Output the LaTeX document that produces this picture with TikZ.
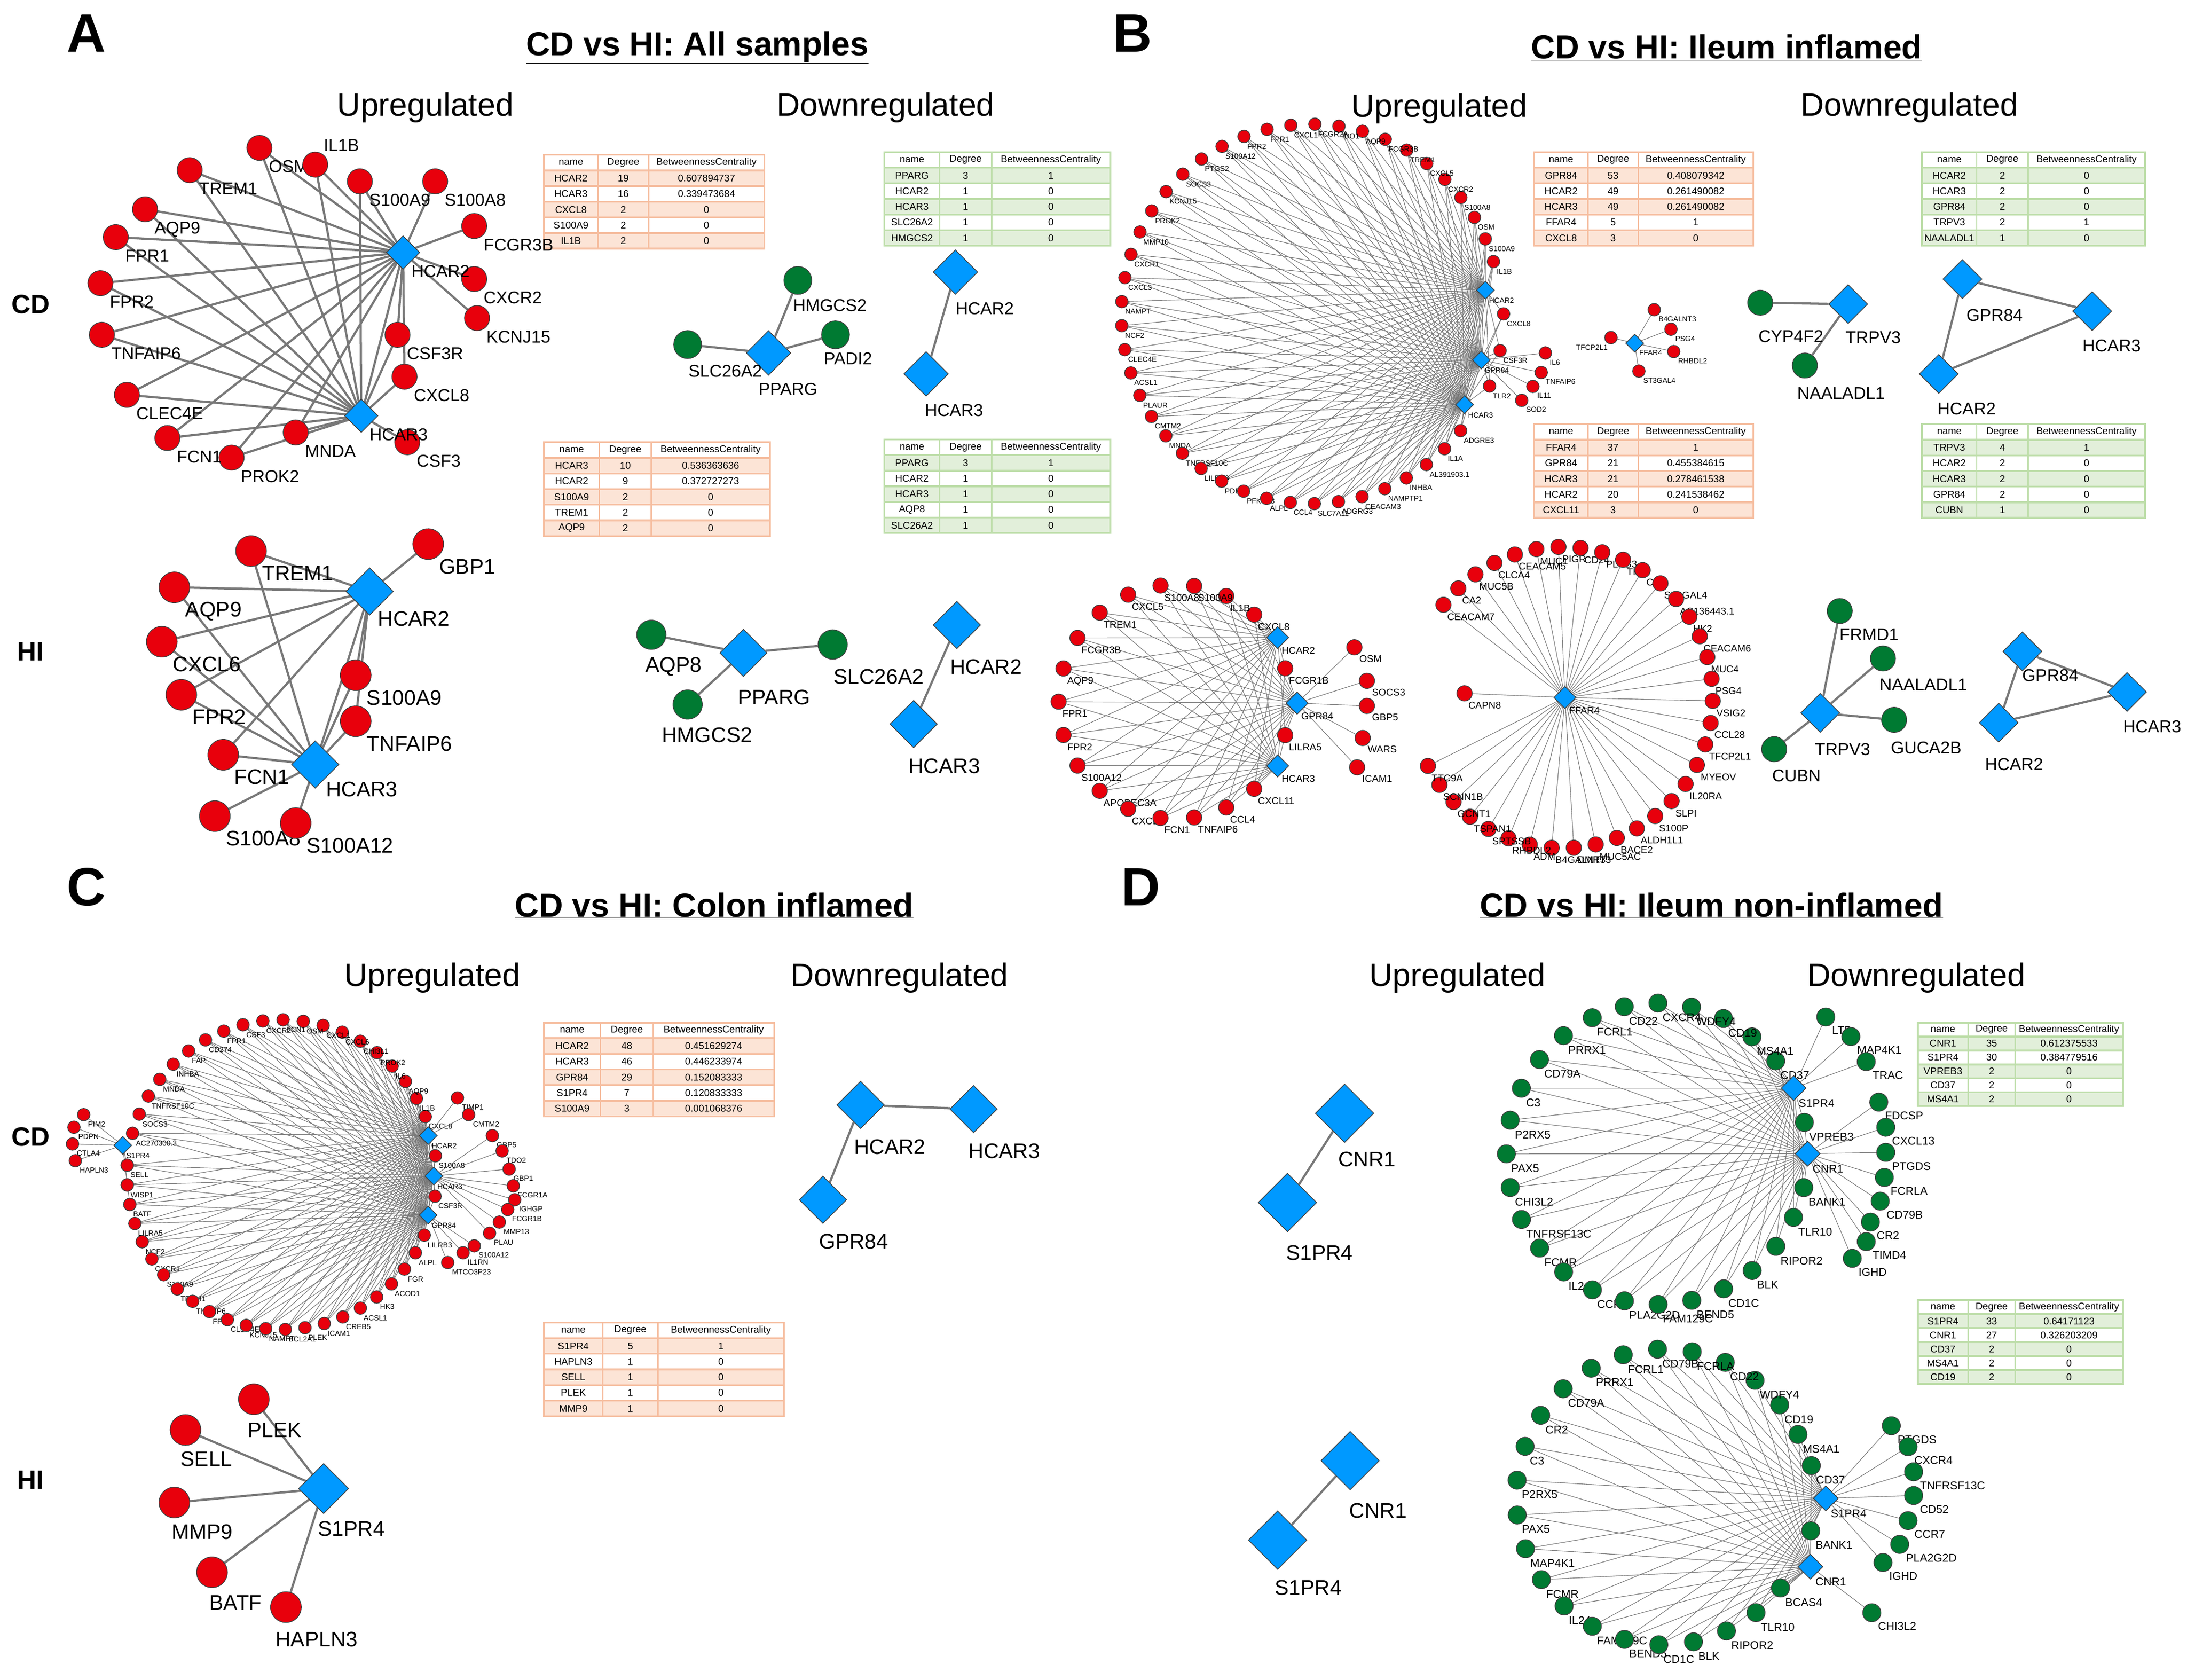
\documentclass[tikz,border=0pt]{standalone}
\usepackage{fontspec}
\setmainfont{Liberation Sans}
\usetikzlibrary{positioning,shapes.geometric,calc}

\definecolor{upred}{RGB}{232,0,12}
\definecolor{dngreen}{RGB}{0,122,50}
\definecolor{hubblue}{RGB}{0,153,255}
\definecolor{linkgray}{RGB}{120,120,120}
\definecolor{peach}{RGB}{252,228,214}
\definecolor{peachline}{RGB}{246,190,160}
\definecolor{mint}{RGB}{226,239,218}
\definecolor{mintline}{RGB}{190,222,170}

% ring network: prefix, centre, radius, start angle, end angle, node style, label style, labels, hubs
\newcommand{\ringnet}[9]{%
  \foreach \lab [count=\k] in {#8} {\xdef\ringn{\k}}
  \foreach \lab [count=\k] in {#8} {
    \pgfmathsetmacro\ang{-(#4+(\k-1)*(#5-#4)/(\ringn-1))}
    \coordinate (#1\k) at ($(#2)+(\ang:#3)$);
    \foreach \h in {#9} \draw[ringlink] (#1\k) -- (\h);
  }
  \foreach \lab [count=\k] in {#8}
    \node[#6, label={[#7]-70:\lab}] at (#1\k) {};
}

% result table: top left, width, row height, fill, rule colour, rows
\newcommand{\stattable}[6]{%
  \begin{scope}[shift={(#1)}]
    \foreach \tn/\tdg/\tbc [count=\r] in {name/Degree/BetweennessCentrality,#6} {
      \pgfmathsetmacro\ry{(\r-1)*#3}
      \pgfmathtruncatemacro\odd{mod(\r,2)}
      \ifnum\odd=0 \def\fc{#4}\else\def\fc{white}\fi
      \draw[draw=#5, line width=3.5pt, fill=\fc] (0,\ry) rectangle ({#2},{\ry+#3});
      \draw[draw=#5, line width=3pt] ({0.245*#2},\ry) -- ++(0,#3) ({0.475*#2},\ry) -- ++(0,#3);
      \node[tabtxt] at ({0.1225*#2},{\ry+#3/2}) {\tn};
      \node[tabtxt] at ({0.36*#2},{\ry+#3/2}) {\tdg};
      \node[tabtxt] at ({0.7375*#2},{\ry+#3/2}) {\tbc};
    }
  \end{scope}}

\begin{document}
\begin{tikzpicture}[x=1mm, y=-1mm,
    gene/.style={circle, draw=black!75, line width=1.5pt, inner sep=0pt},
    upg/.style={gene, fill=upred},
    dng/.style={gene, fill=dngreen},
    hub/.style={diamond, draw=black!75, line width=1.5pt, fill=hubblue, inner sep=0pt},
    link/.style={draw=linkgray, line width=4.5pt},
    ringlink/.style={draw=linkgray, line width=1.2pt},
    panel/.style={font=\bfseries\fontsize{110}{120}\selectfont},
    title/.style={font=\bfseries\fontsize{68}{80}\selectfont},
    head/.style={font=\fontsize{66}{80}\selectfont},
    rowlab/.style={font=\bfseries\fontsize{54}{60}\selectfont},
    glab/.style={font=\fontsize{35}{40}\selectfont, inner sep=4pt},
    Glab/.style={font=\fontsize{43}{50}\selectfont, inner sep=4pt},
    rlab/.style={font=\fontsize{15}{20}\selectfont, inner sep=2pt},
    mlab/.style={font=\fontsize{20}{25}\selectfont, inner sep=2pt},
    dlab/.style={font=\fontsize{23}{30}\selectfont, inner sep=3pt},
    tabtxt/.style={font=\fontsize{20}{24}\selectfont, inner sep=0pt}]
\useasboundingbox (0,0) rectangle (1568,1204);

% headings
\node[panel] at (62,24) {A};
\node[panel] at (812,24) {B};
\node[panel] at (62,636) {C};
\node[panel] at (818,636) {D};
\node[title] at (500,34) {\underline{CD vs HI: All samples}};
\node[title] at (1238,34) {\underline{CD vs HI: Ileum inflamed}};
\node[title] at (512,649) {\underline{CD vs HI: Colon inflamed}};
\node[title] at (1227,649) {\underline{CD vs HI: Ileum non-inflamed}};
\foreach \x/\y/\tx in {305/77/Upregulated, 635/77/Downregulated, 1032/78/Upregulated, 1369/77/Downregulated,
    310/701/Upregulated, 645/701/Downregulated, 1045/701/Upregulated, 1374/701/Downregulated}
  \node[head] at (\x,\y) {\tx};
\foreach \x/\y/\tx in {22/218/CD, 22/467/HI, 22/815/CD, 22/1061/HI}
  \node[rowlab] at (\x,\y) {\tx};

% tables
\stattable{390,111}{158}{11.2}{peach}{peachline}{HCAR2/19/0.607894737, HCAR3/16/0.339473684, CXCL8/2/0, S100A9/2/0, IL1B/2/0}
\stattable{634,109}{162}{11.2}{mint}{mintline}{PPARG/3/1, HCAR2/1/0, HCAR3/1/0, SLC26A2/1/0, HMGCS2/1/0}
\stattable{390,317}{162}{11.2}{peach}{peachline}{HCAR3/10/0.536363636, HCAR2/9/0.372727273, S100A9/2/0, TREM1/2/0, AQP9/2/0}
\stattable{634,315}{162}{11.2}{mint}{mintline}{PPARG/3/1, HCAR2/1/0, HCAR3/1/0, AQP8/1/0, SLC26A2/1/0}
\stattable{1100,109}{157}{11.2}{peach}{peachline}{GPR84/53/0.408079342, HCAR2/49/0.261490082, HCAR3/49/0.261490082, FFAR4/5/1, CXCL8/3/0}
\stattable{1378,109}{160}{11.2}{mint}{mintline}{HCAR2/2/0, HCAR3/2/0, GPR84/2/0, TRPV3/2/1, NAALADL1/1/0}
\stattable{1100,304}{157}{11.2}{peach}{peachline}{FFAR4/37/1, GPR84/21/0.455384615, HCAR3/21/0.278461538, HCAR2/20/0.241538462, CXCL11/3/0}
\stattable{1378,304}{160}{11.2}{mint}{mintline}{TRPV3/4/1, HCAR2/2/0, HCAR3/2/0, GPR84/2/0, CUBN/1/0}
\stattable{390,733}{165}{11.2}{peach}{peachline}{HCAR2/48/0.451629274, HCAR3/46/0.446233974, GPR84/29/0.152083333, S1PR4/7/0.120833333, S100A9/3/0.001068376}
\stattable{390,948}{172}{11.2}{peach}{peachline}{S1PR4/5/1, HAPLN3/1/0, SELL/1/0, PLEK/1/0, MMP9/1/0}
\stattable{1375,733}{147}{10}{mint}{mintline}{CNR1/35/0.612375533, S1PR4/30/0.384779516, VPREB3/2/0, CD37/2/0, MS4A1/2/0}
\stattable{1375,932}{147}{10}{mint}{mintline}{S1PR4/33/0.64171123, CNR1/27/0.326203209, CD37/2/0, MS4A1/2/0, CD19/2/0}

% A: CD upregulated
\coordinate (aH2) at (289,181);
\coordinate (aH3) at (259,298);
\foreach \g/\x/\y in {AQP9/104/150, TREM1/136/122, OSM/186/106, IL1B/226/118, S100A9/258/130, S100A8/312/130,
    FCGR3B/340/162, CXCR2/340/200, KCNJ15/342/228, CSF3R/285/240, CXCL8/290/270, CSF3/292/317, MNDA/212/310,
    PROK2/166/328, FCN1/120/314, CLEC4E/91/283, TNFAIP6/73/240, FPR2/72/203, FPR1/83/170}
  \coordinate (a\g) at (\x,\y);
\draw[link] (aH2) -- (aH3);
\foreach \g in {AQP9,TREM1,OSM,IL1B,S100A9,S100A8,FCGR3B,CXCR2,KCNJ15,CSF3R,CXCL8,MNDA,PROK2,FCN1,CLEC4E,TNFAIP6,FPR2,FPR1}
  \draw[link] (a\g) -- (aH2);
\foreach \g in {AQP9,TREM1,OSM,IL1B,S100A9,CSF3R,CXCL8,CSF3,MNDA,PROK2,FCN1,CLEC4E,TNFAIP6,FPR2,FPR1}
  \draw[link] (a\g) -- (aH3);
\foreach \g/\la in {AQP9/-55,TREM1/-55,OSM/-55,IL1B/60,S100A9/-55,S100A8/-55,FCGR3B/-55,CXCR2/-55,KCNJ15/-55,
    CSF3R/-55,CXCL8/-55,CSF3/-55,MNDA/-55,PROK2/-55,FCN1/-55,CLEC4E/-55,TNFAIP6/-55,FPR2/-55,FPR1/-55}
  \node[upg, minimum size=18mm, label={[glab]\la:\g}] at (a\g) {};
\node[hub, minimum width=24mm, minimum height=24mm, label={[glab]-60:HCAR2}] at (aH2) {};
\node[hub, minimum width=24mm, minimum height=24mm, label={[glab]-60:HCAR3}] at (aH3) {};

% A: HI upregulated
\coordinate (ahH2) at (265,424);
\coordinate (ahH3) at (226,548);
\foreach \g/\x/\y in {TREM1/180/395, AQP9/125/421, GBP1/307/390, CXCL6/116/460, FPR2/130/498, FCN1/160/541,
    S100A9/255/484, TNFAIP6/255/517, S100A8/154/585, S100A12/212/590}
  \coordinate (ah\g) at (\x,\y);
\draw[link] (ahH2) -- (ahH3);
\foreach \g in {TREM1,AQP9,GBP1,CXCL6,FPR2,FCN1,S100A9,TNFAIP6} \draw[link] (ah\g) -- (ahH2);
\foreach \g in {TREM1,AQP9,CXCL6,FPR2,FCN1,S100A9,TNFAIP6,S100A8,S100A12} \draw[link] (ah\g) -- (ahH3);
\foreach \g in {TREM1,AQP9,GBP1,CXCL6,FPR2,FCN1,S100A9,TNFAIP6,S100A8,S100A12}
  \node[upg, minimum size=22mm, label={[Glab]-55:\g}] at (ah\g) {};
\node[hub, minimum width=34mm, minimum height=34mm, label={[Glab]-70:HCAR2}] at (ahH2) {};
\node[hub, minimum width=34mm, minimum height=34mm, label={[Glab]-60:HCAR3}] at (ahH3) {};

% A: downregulated
\node[hub, minimum width=32mm, minimum height=32mm] (adP) at (551,253) {};
\node[dng, minimum size=20mm] (adSLC) at (493,247) {};
\node[dng, minimum size=20mm] (adHMG) at (572,201) {};
\node[dng, minimum size=20mm] (adPAD) at (599,240) {};
\node[hub, minimum width=32mm, minimum height=32mm] (adH2) at (685,195) {};
\node[hub, minimum width=32mm, minimum height=32mm] (adH3) at (664,268) {};
\draw[link] (adSLC) -- (adP) -- (adHMG) (adP) -- (adPAD) (adH2) -- (adH3);
\foreach \x/\y/\tx in {520/266/SLC26A2, 565/279/PPARG, 595/219/HMGCS2, 608/257/PADI2, 706/221/HCAR2, 684/294/HCAR3}
  \node[glab] at (\x,\y) {\tx};
\node[hub, minimum width=34mm, minimum height=34mm] (ahdP) at (533,468) {};
\node[dng, minimum size=21mm] (ahdAQ) at (467,455) {};
\node[dng, minimum size=21mm] (ahdHMG) at (493,505) {};
\node[dng, minimum size=21mm] (ahdSLC) at (597,462) {};
\node[hub, minimum width=34mm, minimum height=34mm] (ahdH2) at (686,448) {};
\node[hub, minimum width=34mm, minimum height=34mm] (ahdH3) at (655,519) {};
\draw[link] (ahdAQ) -- (ahdP) -- (ahdHMG) (ahdP) -- (ahdSLC) (ahdH2) -- (ahdH3);
\foreach \x/\y/\tx in {483/478/AQP8, 555/500/PPARG, 507/527/HMGCS2, 630/485/SLC26A2, 707/478/HCAR2, 677/549/HCAR3}
  \node[Glab] at (\x,\y) {\tx};

% B: CD upregulated
\coordinate (bc) at (940,225);
\coordinate (bH2) at (1065,208);
\coordinate (bG) at (1062,258);
\coordinate (bH3) at (1050,290);
\coordinate (bF) at (1172,246);
\ringnet{br}{bc}{136}{16}{322}{upg, minimum size=9mm}{rlab}{IL1B,S100A9,OSM,S100A8,CXCR2,CXCL5,TREM1,FCGR3B,AQP9,IDO1,FCGR2A,CXCL1,FPR1,FPR2,S100A12,PTGS2,SOCS3,KCNJ15,PROK2,MMP10,CXCR1,CXCL3,NAMPT,NCF2,CLEC4E,ACSL1,PLAUR,CMTM2,MNDA,TNFRSF10C,LILRB3,PDE4B,PFKFB3,ALPL,CCL4,SLC7A11,ADGRG3,CEACAM3,NAMPTP1,INHBA,AL391903.1,IL1A,ADGRE3}{bH2,bG,bH3}
\ringnet{brx}{bc}{138}{0}{-22}{upg, minimum size=9mm}{rlab}{CXCL8,CSF3R,TLR2}{bH2,bG,bH3}
\foreach \g/\x/\y/\h/\la in {IL6/1108/253/bG/-60, TNFAIP6/1105/267/bG/-60, IL11/1099/277/bG/-60, SOD2/1091/287/bG/-60,
    B4GALNT3/1186/222/bF/-60, PSG4/1198/236/bF/-60, RHBDL2/1200/252/bF/-60, ST3GAL4/1175/266/bF/-60, TFCP2L1/1155/242/bF/-110} {
  \coordinate (bs\g) at (\x,\y);
  \draw[ringlink] (bs\g) -- (\h);
  \node[upg, minimum size=9mm, label={[rlab]\la:\g}] at (bs\g) {};}
\node[hub, minimum width=13mm, minimum height=13mm, label={[rlab]-70:HCAR2}] at (bH2) {};
\node[hub, minimum width=13mm, minimum height=13mm, label={[rlab]-70:GPR84}] at (bG) {};
\node[hub, minimum width=13mm, minimum height=13mm, label={[rlab]-70:HCAR3}] at (bH3) {};
\node[hub, minimum width=13mm, minimum height=13mm, label={[rlab]-60:FFAR4}] at (bF) {};

% B: CD downregulated
\node[dng, minimum size=18mm] (bdCYP) at (1262,217) {};
\node[hub, minimum width=28mm, minimum height=28mm] (bdT) at (1325,218) {};
\node[dng, minimum size=18mm] (bdNA) at (1294,262) {};
\node[hub, minimum width=28mm, minimum height=28mm] (bdG) at (1407,200) {};
\node[hub, minimum width=28mm, minimum height=28mm] (bdH3) at (1500,223) {};
\node[hub, minimum width=28mm, minimum height=28mm] (bdH2) at (1390,268) {};
\draw[link] (bdCYP) -- (bdT) -- (bdNA) (bdG) -- (bdH3) -- (bdH2) -- (bdG);
\foreach \x/\y/\tx in {1284/241/CYP4F2, 1343/242/TRPV3, 1320/282/NAALADL1, 1430/226/GPR84, 1514/248/HCAR3, 1410/293/HCAR2}
  \node[glab] at (\x,\y) {\tx};

% B: HI upregulated
\coordinate (bh1) at (843,503);
\coordinate (bhH2) at (916,457);
\coordinate (bhG) at (930,504);
\coordinate (bhH3) at (916,549);
\ringnet{bha}{bh1}{84}{48}{312}{upg, minimum size=11mm}{mlab}{CXCL8,IL1B,S100A9,S100A8,CXCL5,TREM1,FCGR3B,AQP9,FPR1,FPR2,S100A12,APOBEC3A,CXCL6,FCN1,TNFAIP6,CCL4,CXCL11}{bhH2,bhG,bhH3}
\ringnet{bhb}{bh1}{82}{17}{-17}{upg, minimum size=11mm}{mlab}{FCGR1B,LILRA5}{bhH2,bhG,bhH3}
\foreach \g/\x/\y in {OSM/971/464, SOCS3/980/488, GBP5/980/506, WARS/977/529, ICAM1/973/550} {
  \coordinate (bhs\g) at (\x,\y);
  \draw[ringlink] (bhs\g) -- (bhG);
  \node[upg, minimum size=11mm, label={[mlab]-60:\g}] at (bhs\g) {};}
\node[hub, minimum width=16mm, minimum height=16mm, label={[mlab]-70:HCAR2}] at (bhH2) {};
\node[hub, minimum width=16mm, minimum height=16mm, label={[mlab]-70:GPR84}] at (bhG) {};
\node[hub, minimum width=16mm, minimum height=16mm, label={[mlab]-70:HCAR3}] at (bhH3) {};
\coordinate (bh2) at (1120,500);
\coordinate (bhF) at (1122,500);
\coordinate (bhCAP) at (1050,497);
\ringnet{bhc}{bh2}{108}{142}{-153}{upg, minimum size=11mm}{mlab}{CEACAM7,CA2,MUC5B,CLCA4,CEACAM5,MUC1,PIGR,CD24,PLCB3,TFF2,CA4,ST3GAL4,AC136443.1,HK2,CEACAM6,MUC4,PSG4,VSIG2,CCL28,TFCP2L1,MYEOV,IL20RA,SLPI,S100P,ALDH1L1,BACE2,MUC5AC,DMRT3,B4GALNT3,ADM,RHBDL2,SPTSSB,TSPAN1,GCNT1,SCNN1B,TTC9A}{bhF}
\draw[ringlink] (bhCAP) -- (bhF);
\node[upg, minimum size=11mm, label={[mlab]-70:CAPN8}] at (bhCAP) {};
\node[hub, minimum width=16mm, minimum height=16mm, label={[mlab]-70:FFAR4}] at (bhF) {};

% B: HI downregulated
\node[dng, minimum size=18mm] (bhdFR) at (1319,438) {};
\node[dng, minimum size=18mm] (bhdNA) at (1350,472) {};
\node[hub, minimum width=28mm, minimum height=28mm] (bhdT) at (1305,511) {};
\node[dng, minimum size=18mm] (bhdCU) at (1272,537) {};
\node[dng, minimum size=18mm] (bhdGU) at (1358,516) {};
\node[hub, minimum width=28mm, minimum height=28mm] (bhdG) at (1450,467) {};
\node[hub, minimum width=28mm, minimum height=28mm] (bhdH3) at (1525,496) {};
\node[hub, minimum width=28mm, minimum height=28mm] (bhdH2) at (1433,518) {};
\draw[link] (bhdFR) -- (bhdT) -- (bhdNA) (bhdCU) -- (bhdT) -- (bhdGU) (bhdG) -- (bhdH3) -- (bhdH2) -- (bhdG);
\foreach \x/\y/\tx in {1340/455/FRMD1, 1379/491/NAALADL1, 1321/537/TRPV3, 1288/556/CUBN, 1381/536/GUCA2B,
    1470/484/GPR84, 1543/521/HCAR3, 1444/548/HCAR2}
  \node[glab] at (\x,\y) {\tx};

% C: CD upregulated
\coordinate (cc) at (202,842);
\coordinate (cH2) at (307,814);
\coordinate (cH3) at (311,843);
\coordinate (cG) at (307,871);
\coordinate (cS) at (88,821);
\ringnet{ca}{cc}{111}{22}{164.5}{upg, minimum size=9mm}{rlab}{CXCL8,IL1B,AQP9,IL6,PROK2,CHI3L1,CXCL6,CXCL1,OSM,FCN1,CXCR2,CSF3,FPR1,CD274,FAP,INHBA,MNDA,TNFRSF10C,SOCS3,AC270300.3}{cH2,cH3,cG}
\ringnet{cb}{cc}{111}{176.5}{337}{upg, minimum size=9mm}{rlab}{SELL,WISP1,BATF,LILRA5,NCF2,CXCR1,S100A9,TREM1,TNFAIP6,FPR2,CLEC4E,KCNJ15,NAMPT,BCL2A1,PLEK,ICAM1,CREB5,ACSL1,HK3,ACOD1,FGR,ALPL,LILRB3}{cH2,cH3,cG}
\ringnet{cx}{cc}{111}{7}{-8}{upg, minimum size=9mm}{rlab}{S100A8,CSF3R}{cH2,cH3,cG}
\foreach \k in {1,2,3} \draw[ringlink] (cb\k) -- (cS);
\foreach \g/\x/\y/\h in {PIM2/60/799/cS, PDPN/53/808/cS, CTLA4/52/820/cS, HAPLN3/54/832/cS,
    TIMP1/328/787/cH2, CMTM2/336/799/cH2, GBP5/353/814/cH3, TDO2/360/825/cH3, GBP1/365/838/cH3,
    FCGR1A/368/850/cH3, IGHGP/369/860/cH3, FCGR1B/364/867/cH3, MMP13/358/876/cH3, PLAU/351/884/cH3,
    S100A12/340/893/cG, IL1RN/332/898/cG, MTCO3P23/321/905/cG} {
  \coordinate (cs\g) at (\x,\y);
  \draw[ringlink] (cs\g) -- (\h);
  \node[upg, minimum size=9mm, label={[rlab]-60:\g}] at (cs\g) {};}
\foreach \k in {1,2,3} \node[upg, minimum size=9mm] at (cb\k) {};
\node[hub, minimum width=13mm, minimum height=13mm, label={[rlab]-70:HCAR2}] at (cH2) {};
\node[hub, minimum width=13mm, minimum height=13mm, label={[rlab]-70:HCAR3}] at (cH3) {};
\node[hub, minimum width=13mm, minimum height=13mm, label={[rlab]-70:GPR84}] at (cG) {};
\node[hub, minimum width=13mm, minimum height=13mm, label={[rlab]-70:S1PR4}] at (cS) {};

% C: HI upregulated and CD downregulated
\coordinate (chS) at (232,1067);
\foreach \g/\x/\y/\lx/\ly in {PLEK/182/1003/197/1025, SELL/133/1025/148/1046, MMP9/125/1077/145/1098,
    BATF/152/1127/169/1149, HAPLN3/205/1152/227/1175} {
  \coordinate (ch\g) at (\x,\y);
  \draw[link] (ch\g) -- (chS);
  \node[upg, minimum size=22mm] at (ch\g) {};
  \node[Glab] at (\lx,\ly) {\g};}
\node[hub, minimum width=36mm, minimum height=36mm] at (chS) {};
\node[Glab] at (252,1096) {S1PR4};
\node[hub, minimum width=34mm, minimum height=34mm] (cdH2) at (617,792) {};
\node[hub, minimum width=34mm, minimum height=34mm] (cdH3) at (698,795) {};
\node[hub, minimum width=34mm, minimum height=34mm] (cdG) at (590,860) {};
\draw[link] (cdH3) -- (cdH2) -- (cdG);
\foreach \x/\y/\tx in {638/822/HCAR2, 720/825/HCAR3, 612/890/GPR84}
  \node[Glab] at (\x,\y) {\tx};

% D: upregulated
\node[hub, minimum width=42mm, minimum height=42mm] (duC) at (964,798) {};
\node[hub, minimum width=42mm, minimum height=42mm] (duS) at (923,862) {};
\node[hub, minimum width=42mm, minimum height=42mm] (dhuC) at (968,1047) {};
\node[hub, minimum width=42mm, minimum height=42mm] (dhuS) at (916,1104) {};
\draw[link] (duC) -- (duS) (dhuC) -- (dhuS);
\foreach \x/\y/\tx in {980/831/CNR1, 946/898/S1PR4, 988/1083/CNR1, 938/1138/S1PR4}
  \node[Glab] at (\x,\y) {\tx};

% D: CD downregulated
\coordinate (dc) at (1188,827);
\coordinate (dS) at (1286,780);
\coordinate (dC) at (1296,827);
\ringnet{da}{dc}{108}{38}{335}{dng, minimum size=13mm}{dlab}{CD37,MS4A1,CD19,WDFY4,CXCR4,CD22,FCRL1,PRRX1,CD79A,C3,P2RX5,PAX5,CHI3L2,TNFRSF13C,FCMR,IL24,CCR7,PLA2G2D,FAM129C,BEND5,CD1C,BLK,RIPOR2,TLR10}{dS,dC}
\ringnet{db}{dc}{108}{12}{-13}{dng, minimum size=13mm}{dlab}{VPREB3,BANK1}{dS,dC}
\foreach \g/\x/\y/\h in {LTB/1309/729/dS, MAP4K1/1327/743/dS, TRAC/1338/761/dS, FDCSP/1347/790/dC,
    CXCL13/1352/808/dC, PTGDS/1352/826/dC, FCRLA/1351/844/dC, CD79B/1348/861/dC, CR2/1341/876/dC,
    TIMD4/1338/890/dC, IGHD/1328/902/dC} {
  \coordinate (ds\g) at (\x,\y);
  \draw[ringlink] (ds\g) -- (\h);
  \node[dng, minimum size=13mm, label={[dlab]-60:\g}] at (ds\g) {};}
\node[hub, minimum width=18mm, minimum height=18mm, label={[dlab]-70:S1PR4}] at (dS) {};
\node[hub, minimum width=18mm, minimum height=18mm, label={[dlab]-70:CNR1}] at (dC) {};

% D: HI downregulated
\coordinate (dh) at (1193,1073);
\coordinate (dhS) at (1309,1074);
\coordinate (dhC) at (1298,1123);
\ringnet{dha}{dh}{106}{25}{322}{dng, minimum size=13mm}{dlab}{MS4A1,CD19,WDFY4,CD22,FCRLA,CD79B,FCRL1,PRRX1,CD79A,CR2,C3,P2RX5,PAX5,MAP4K1,FCMR,IL24,FAM129C,BEND5,CD1C,BLK,RIPOR2,TLR10,BCAS4}{dhS,dhC}
\ringnet{dhb}{dh}{108}{12}{-13}{dng, minimum size=13mm}{dlab}{CD37,BANK1}{dhS,dhC}
\foreach \g/\x/\y/\h in {PTGDS/1356/1022/dhS, CXCR4/1368/1037/dhS, TNFRSF13C/1372/1055/dhS, CD52/1372/1072/dhS,
    CCR7/1368/1090/dhS, PLA2G2D/1362/1107/dhS, IGHD/1350/1120/dhS, CHI3L2/1342/1156/dhC} {
  \coordinate (dhs\g) at (\x,\y);
  \draw[ringlink] (dhs\g) -- (\h);
  \node[dng, minimum size=13mm, label={[dlab]-60:\g}] at (dhs\g) {};}
\node[hub, minimum width=18mm, minimum height=18mm, label={[dlab]-70:S1PR4}] at (dhS) {};
\node[hub, minimum width=18mm, minimum height=18mm, label={[dlab]-70:CNR1}] at (dhC) {};
\end{tikzpicture}
\end{document}
